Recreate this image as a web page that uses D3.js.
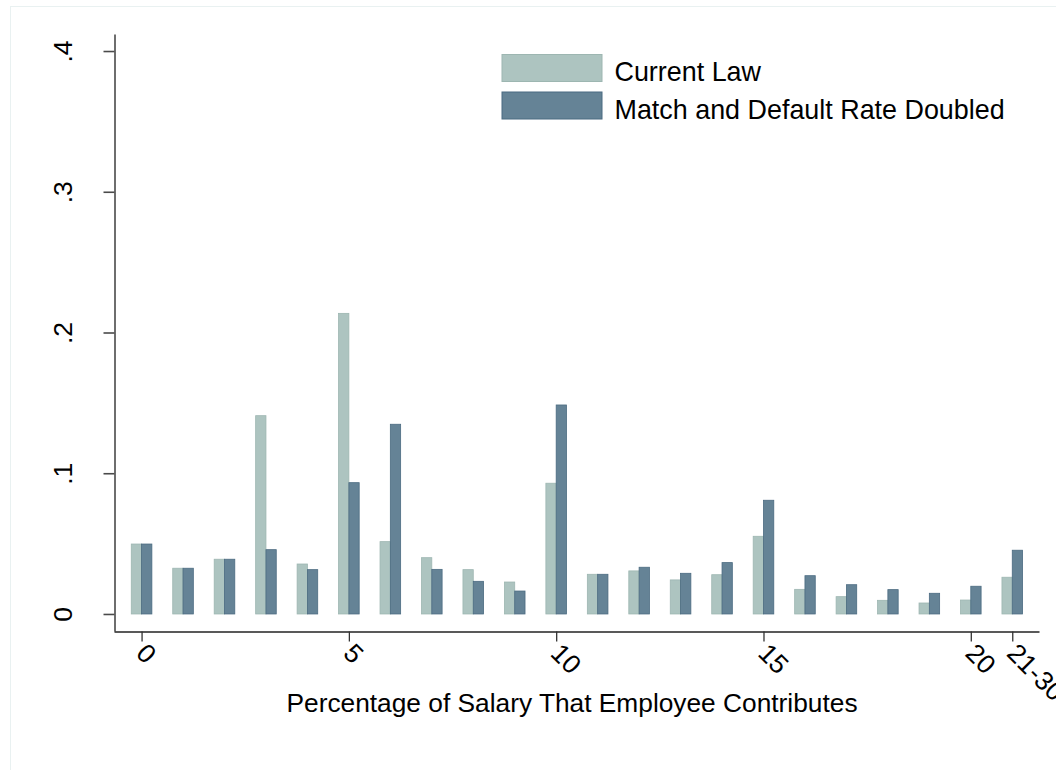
<!DOCTYPE html>
<html>
<head>
<meta charset="utf-8">
<script src="https://cdn.jsdelivr.net/npm/d3@7"></script>
<style>
  html, body { margin: 0; padding: 0; background: #fff; }
  svg { display: block; font-family: "Liberation Sans", Arial, sans-serif; }
</style>
</head>
<body>
<svg id="chart" width="1056" height="770"></svg>
<script>
// Contribution rate categories (percent of salary) and the share of employees at each
const categories = [0, 1, 2, 3, 4, 5, 6, 7, 8, 9, 10, 11, 12, 13, 14, 15, 16, 17, 18, 19, 20, 21];
const currentLaw = [0.0497, 0.0325, 0.0389, 0.1409, 0.0355, 0.2136, 0.0514, 0.0400, 0.0315, 0.0227, 0.0929,
                    0.0282, 0.0306, 0.0242, 0.0279, 0.0552, 0.0175, 0.0123, 0.0097, 0.0078, 0.0099, 0.0261];
const doubled    = [0.0497, 0.0325, 0.0389, 0.0457, 0.0315, 0.0933, 0.1348, 0.0317, 0.0232, 0.0163, 0.1485,
                    0.0282, 0.0332, 0.0289, 0.0365, 0.0808, 0.0272, 0.0208, 0.0173, 0.0147, 0.0197, 0.0453];
const xTickValues = [0, 5, 10, 15, 20, 21];
const xTickLabels = ["0", "5", "10", "15", "20", "21-30"];
const yTickValues = [0, 0.1, 0.2, 0.3, 0.4];
const yTickLabels = ["0", ".1", ".2", ".3", ".4"];
const seriesNames = ["Current Law", "Match and Default Rate Doubled"];
const xTitle = "Percentage of Salary That Employee Contributes";

const colors = {
  light: { fill: "#adc4c0", stroke: "#9db6b1" },
  dark:  { fill: "#658396", stroke: "#4b6b81" }
};

const svg = d3.select("#chart");

// faint outer frame
svg.append("rect")
  .attr("x", 10.5).attr("y", 6.5).attr("width", 1100).attr("height", 800)
  .attr("fill", "none").attr("stroke", "#e9f1f1").attr("stroke-width", 1);

const x = d3.scaleLinear().domain([-0.665, 21.645]).range([114, 1039]);
const y = d3.scaleLinear().domain([-0.0121, 0.4121]).range([631, 34]);
const barW = 10.3;

// bars
const g = svg.append("g");
g.selectAll("rect.cur").data(categories).join("rect")
  .attr("class", "cur")
  .attr("x", (d) => x(d) - barW)
  .attr("y", (d, i) => y(currentLaw[i]))
  .attr("width", barW)
  .attr("height", (d, i) => y(0) - y(currentLaw[i]))
  .attr("fill", colors.light.fill)
  .attr("stroke", colors.light.stroke)
  .attr("stroke-width", 0.8);

g.selectAll("rect.dbl").data(categories).join("rect")
  .attr("class", "dbl")
  .attr("x", (d) => x(d))
  .attr("y", (d, i) => y(doubled[i]))
  .attr("width", barW)
  .attr("height", (d, i) => y(0) - y(doubled[i]))
  .attr("fill", colors.dark.fill)
  .attr("stroke", colors.dark.stroke)
  .attr("stroke-width", 0.8);

// y axis
const yAxis = d3.axisLeft(y)
  .tickValues(yTickValues)
  .tickFormat((d, i) => yTickLabels[i])
  .tickSizeOuter(0)
  .tickSizeInner(11);
const yg = svg.append("g").attr("transform", "translate(114.5,0)").call(yAxis);
yg.select(".domain").attr("stroke", "#4a4a4a").attr("stroke-width", 1.6);
yg.selectAll(".tick line").attr("stroke", "#4a4a4a").attr("stroke-width", 1.6);
yg.selectAll(".tick text")
  .attr("x", null).attr("dy", null)
  .attr("text-anchor", "middle")
  .attr("transform", "translate(-43,0) rotate(-90)")
  .attr("font-size", 26.5)
  .attr("fill", "#000")
  .attr("font-family", "Liberation Sans, Arial, sans-serif");

// x axis
const xAxis = d3.axisBottom(x)
  .tickValues(xTickValues)
  .tickFormat((d, i) => xTickLabels[i])
  .tickSizeOuter(0)
  .tickSizeInner(10);
const xg = svg.append("g").attr("transform", "translate(0,631.5)").call(xAxis);
xg.select(".domain").attr("stroke", "#222").attr("stroke-width", 1.3);
xg.selectAll(".tick line").attr("stroke", "#333").attr("stroke-width", 1.3);
xg.selectAll(".tick text")
  .attr("y", null).attr("dy", null)
  .attr("text-anchor", "start")
  .attr("dominant-baseline", "central")
  .attr("transform", "translate(-1,17) rotate(45)")
  .attr("font-size", 26.5)
  .attr("fill", "#000")
  .attr("font-family", "Liberation Sans, Arial, sans-serif");

// x title
svg.append("text")
  .attr("x", 572).attr("y", 712)
  .attr("text-anchor", "middle")
  .attr("font-size", 26.3)
  .text(xTitle);

// legend
const legend = svg.append("g");
const legendItems = [
  { name: seriesNames[0], c: colors.light, y: 54.5 },
  { name: seriesNames[1], c: colors.dark, y: 92 }
];
legendItems.forEach((it) => {
  legend.append("rect")
    .attr("x", 502).attr("y", it.y).attr("width", 100).attr("height", 27)
    .attr("fill", it.c.fill).attr("stroke", it.c.stroke).attr("stroke-width", 1);
  legend.append("text")
    .attr("x", 614.5).attr("y", it.y + 26.5)
    .attr("font-size", 26.9)
    .text(it.name);
});
</script>
</body>
</html>
